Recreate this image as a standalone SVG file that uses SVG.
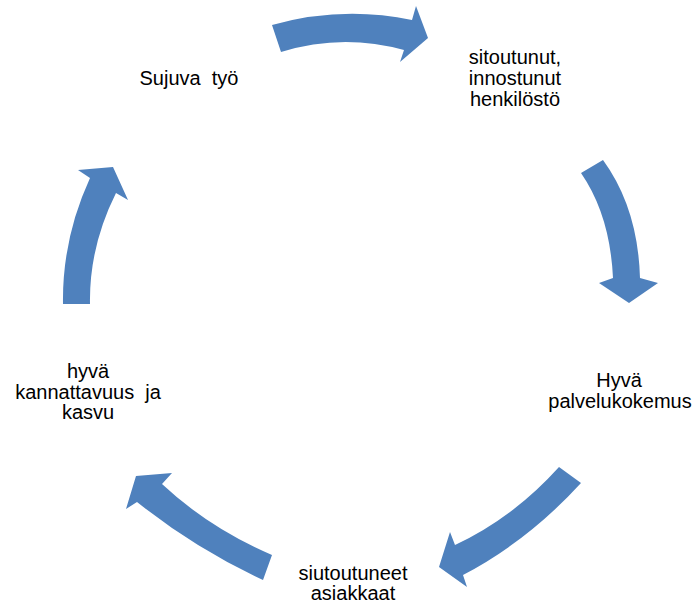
<svg xmlns="http://www.w3.org/2000/svg" width="694" height="605" viewBox="0 0 694 605">
<style>
.arr{fill:#4f81bd;stroke:none}
.t{font-family:"Liberation Sans",Arial,sans-serif;font-size:20px;fill:#000;text-anchor:middle}
</style>
<rect width="694" height="605" fill="#fff"/>
<g id="connectors">
<path class="arr" d="M272,25 Q342,5.5 412,20 L416,6 L428,38 L400,62 L404,50 Q342,33 281,52 Z"/>
<path class="arr" d="M603,160 Q638,208 640,278 L658,283 L629,303 L599,283 L613,278 Q610,215 581,173 Z"/>
<path class="arr" d="M581,483 Q528,541 463,575 L467,587 L439,567 L450,532 L455,545 Q513,518 559,467 Z"/>
<path class="arr" d="M263,580 Q196,549 137,502 L126,509 L136,476 L172,473 L162,484 Q209,528 272,555 Z"/>
<path class="arr" d="M63,304 Q62,239 90,178 L78,170 L113,167 L128,200 L116,193 Q89,247 90,304 Z"/>
</g>
<g id="node-sujuva">
<text class="t" x="189" y="85" xml:space="preserve">Sujuva  työ</text>
</g>
<g id="node-henkilosto">
<text class="t" x="515" y="64">sitoutunut,</text>
<text class="t" x="515" y="85">innostunut</text>
<text class="t" x="515" y="106">henkilöstö</text>
</g>
<g id="node-palvelu">
<text class="t" x="619" y="387">Hyvä</text>
<text class="t" x="620" y="408">palvelukokemus</text>
</g>
<g id="node-asiakkaat">
<text class="t" x="353" y="580">siutoutuneet</text>
<text class="t" x="353" y="600">asiakkaat</text>
</g>
<g id="node-kannattavuus">
<text class="t" x="88" y="378">hyvä</text>
<text class="t" x="88" y="399" xml:space="preserve">kannattavuus  ja</text>
<text class="t" x="88" y="419">kasvu</text>
</g>
</svg>
